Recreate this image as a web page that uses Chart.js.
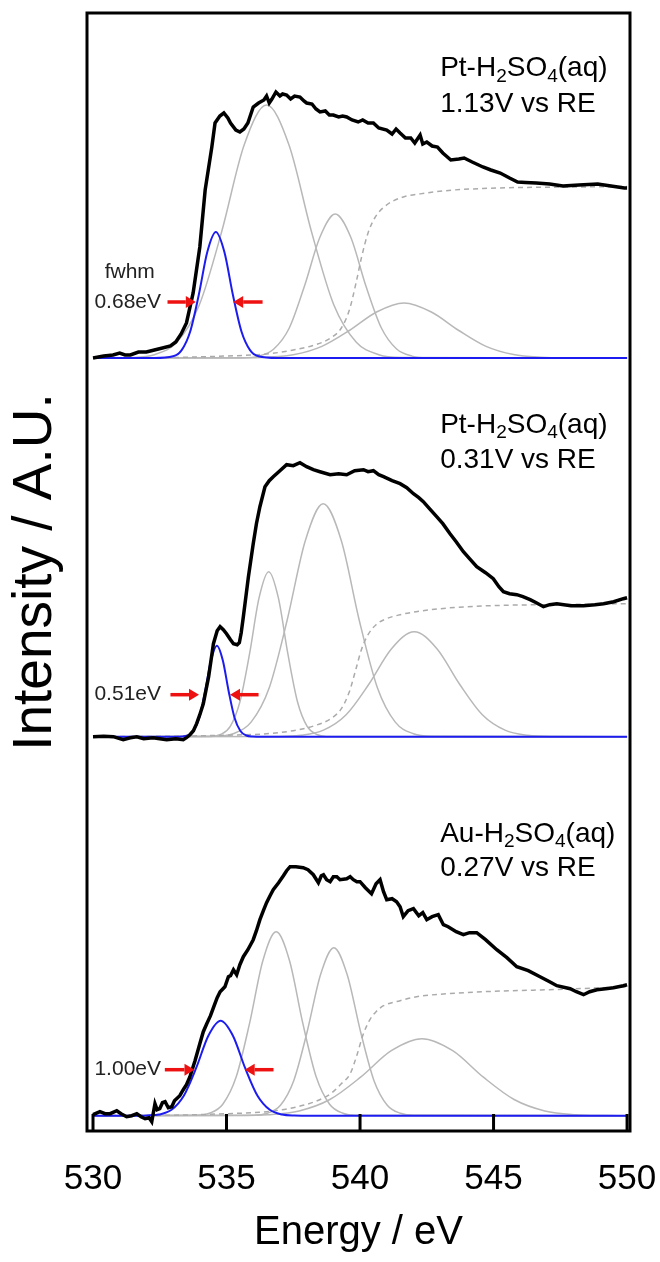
<!DOCTYPE html>
<html>
<head>
<meta charset="utf-8">
<script src="https://cdn.jsdelivr.net/npm/chart.js@4.4.1/dist/chart.umd.min.js"></script>
<style>
  html, body { margin: 0; padding: 0; background: #fff; }
  #wrap { width: 660px; height: 1262px; }
</style>
</head>
<body>
<div id="wrap"><canvas id="xas" width="660" height="1262"></canvas></div>
<script>
// O K-edge spectra, three electrodes. Values are [energy eV, intensity A.U.]
const energyTicks = [530, 535, 540, 545, 550];

const panelTitles = ['Pt-H_2SO_4(aq)', 'Pt-H_2SO_4(aq)', 'Au-H_2SO_4(aq)'];
const panelPotentials = ['1.13V vs RE', '0.31V vs RE', '0.27V vs RE'];
const fwhmLabels = ['0.68eV', '0.51eV', '1.00eV'];

// --- Pt 1.13 V ---
const pt113Measured = [[530.0,0],[530.4,2],[530.75,3],[531.0,5],[531.2,3],[531.4,3],[531.7,6],[532.0,6],[532.3,8],[532.6,10],[532.9,12],[533.1,16],[533.3,24],[533.5,35],[533.75,65],[534.0,111],[534.2,168],[534.45,211],[534.57,235],[534.75,242],[534.9,245],[535.05,240],[535.15,235],[535.35,228],[535.5,226],[535.65,229],[535.8,235],[536.0,251],[536.2,255],[536.4,258],[536.5,262],[536.6,255],[536.7,259],[536.85,266],[537.0,262],[537.1,264],[537.25,263],[537.4,259],[537.55,262],[537.75,261],[537.9,257],[538.0,255],[538.2,254],[538.35,249],[538.5,246],[538.7,247],[538.85,243],[539.0,243],[539.2,241],[539.35,242],[539.5,241],[539.7,238],[539.93,236],[540.1,238],[540.3,235],[540.5,235],[540.7,230],[541.0,228],[541.2,224],[541.35,229],[541.5,225],[541.7,220],[541.9,220],[542.05,215],[542.25,223],[542.35,214],[542.5,216],[542.7,212],[542.9,211],[543.1,205],[543.4,198],[543.7,199],[543.9,200],[544.2,196],[544.6,191],[544.9,188],[545.25,185],[545.6,180],[545.9,176],[546.2,175.5],[546.6,175],[547.1,174],[547.6,172],[548.2,173],[548.9,174],[549.4,172],[549.9,170],[550.0,170]];
const pt113Step = [[530,0],[533,0.5],[535,2],[536.5,4],[537.5,8],[538.3,13],[538.9,20],[539.3,30],[539.6,48],[539.85,75],[540.05,100],[540.3,125],[540.55,140],[540.9,151],[541.5,160],[542.5,165],[543.5,168],[544.6,169.5],[546,170.5],[548,171],[550,171.5]];
const pt113Pre = [[530,0],[532.3,0],[533.0,1.7],[533.32,7.9],[533.64,26.5],[533.96,63],[534.28,106],[534.6,126],[534.92,106],[535.24,63],[535.56,26.5],[535.88,7.9],[536.2,1.7],[536.9,0],[550,0]];
const pt113PeakA = [[530,0],[531.46,0.5],[532.3,3.3],[533.14,15.8],[533.98,53],[534.82,126.5],[535.66,213],[536.5,253],[537.34,213],[538.18,126.5],[539.02,53],[539.86,15.8],[540.7,3.3],[541.54,0.5],[550,0]];
const pt113PeakB = [[530,0],[535.62,0.3],[536.2,1.9],[536.77,9],[537.35,30],[537.92,72],[538.5,121],[539.07,144],[539.65,121],[540.22,72],[540.8,30],[541.37,9],[541.95,1.9],[542.52,0.3],[550,0]];
const pt113PeakC = [[530,0],[535.5,0.1],[536.52,0.7],[537.55,3.4],[538.57,11.6],[539.6,27.5],[540.62,46],[541.65,55],[542.67,46],[543.7,27.5],[544.72,11.6],[545.75,3.4],[546.77,0.7],[547.8,0.1],[550,0]];

// --- Pt 0.31 V ---
const pt031Measured = [[530.0,0],[530.4,0.5],[530.76,0],[531.13,-3],[531.4,-1],[531.64,0],[531.9,-2],[532.25,-1],[532.5,-2],[532.76,-3],[533.1,-2],[533.38,-3],[533.5,-1],[533.63,2],[533.76,6],[533.88,13],[534.0,22],[534.13,33],[534.33,60],[534.51,93],[534.65,106],[534.76,110],[534.88,107],[535.0,103],[535.15,97],[535.26,93],[535.4,92],[535.48,94],[535.55,104],[535.63,120],[535.82,160],[536.0,193],[536.12,213],[536.25,230],[536.44,250],[536.6,256],[536.75,260],[537.0,266],[537.25,272],[537.5,271],[537.75,274],[538.0,270],[538.25,267],[538.5,265],[538.88,262],[539.2,263],[539.5,262],[539.8,266],[540.13,267],[540.3,265],[540.5,266],[540.7,262],[540.88,260],[541.2,256],[541.5,253],[541.75,249],[542.0,243],[542.2,239],[542.37,235],[542.6,228],[542.87,220],[543.1,213],[543.37,203],[543.6,195],[543.87,185],[544.1,178],[544.37,170],[544.7,164],[544.99,158],[545.2,150],[545.37,145],[545.6,143],[545.87,142],[546.1,140],[546.37,137],[546.6,134],[546.87,130],[547.1,132],[547.37,133],[547.9,131],[548.37,131],[548.8,132],[549.12,133],[549.5,135],[549.86,138],[550.0,139]];
const pt031Step = [[530,0],[533,0.5],[535,1.5],[536.5,3],[537.5,6],[538.3,11],[538.9,18],[539.3,28],[539.6,45],[539.85,68],[540.05,87],[540.3,102],[540.6,112],[540.9,117],[541.5,122],[542.1,125],[543,128],[544,130],[545.5,131.5],[547,132],[550,133]];
const pt031Pre = [[530,0],[533.0,0],[533.32,0.2],[533.54,1.2],[533.76,5.7],[533.98,19],[534.2,45.5],[534.42,76.5],[534.64,91],[534.86,76.5],[535.08,45.5],[535.3,19],[535.52,5.7],[535.74,1.2],[535.96,0.2],[536.4,0],[550,0]];
const pt031PeakA = [[530,0],[534.42,0.3],[534.78,2.2],[535.14,10.3],[535.5,34.7],[535.86,82.5],[536.22,139],[536.58,165],[536.94,139],[537.3,82.5],[537.66,34.7],[538.02,10.3],[538.38,2.2],[538.74,0.3],[550,0]];
const pt031PeakB = [[530,0],[534.57,0.5],[535.25,3],[535.92,14.6],[536.6,49],[537.27,116.5],[537.95,196],[538.62,233],[539.3,196],[539.97,116.5],[540.65,49],[541.32,14.6],[542.0,3],[542.67,0.5],[550,0]];
const pt031PeakC = [[530,0],[536.93,0.2],[537.78,1.4],[538.63,6.6],[539.48,22],[540.33,52.5],[541.18,88],[542.03,105],[542.88,88],[543.73,52.5],[544.58,22],[545.43,6.6],[546.28,1.4],[547.13,0.2],[550,0]];

// --- Au 0.27 V ---
const au027Measured = [[530.0,1],[530.26,4],[530.45,2],[530.64,2],[530.89,5],[531.05,2],[531.26,-1],[531.45,0],[531.64,2],[531.8,-1],[531.95,-3],[532.1,-2],[532.2,-6],[532.32,12],[532.4,6],[532.5,7],[532.6,13],[532.7,14],[532.82,8],[532.95,9],[533.05,15],[533.13,17],[533.25,20],[533.38,26],[533.5,31],[533.63,39],[533.82,55],[534.0,72],[534.13,84],[534.26,92],[534.4,100],[534.51,108],[534.65,118],[534.76,124],[534.94,129],[535.07,139],[535.15,140],[535.26,146],[535.38,141],[535.5,151],[535.63,159],[535.8,166],[536.0,176],[536.12,185],[536.25,196],[536.38,205],[536.5,213],[536.63,220],[536.75,226],[536.95,233],[537.13,240],[537.25,245],[537.38,249],[537.6,249],[537.87,248],[538.05,246],[538.25,241],[538.44,233],[538.55,240],[538.63,241],[538.75,236],[538.88,234],[539.0,239],[539.13,239],[539.25,236],[539.5,237],[539.63,239],[539.75,236],[539.88,234],[540.0,234],[540.2,228],[540.43,222],[540.6,232],[540.75,236],[540.88,224],[541.0,216],[541.2,217],[541.37,214],[541.5,209],[541.62,199],[541.8,205],[542.0,207],[542.2,200],[542.35,203],[542.5,196],[542.7,199],[542.93,201],[543.12,191],[543.3,189],[543.6,184],[543.87,181],[544.1,183],[544.37,183],[544.7,176],[545.12,166],[545.5,158],[545.87,149],[546.3,145],[546.74,139],[547.1,134],[547.37,130],[547.87,127],[548.1,124],[548.37,121],[548.6,124],[548.87,126],[549.2,127],[549.49,128],[549.86,130],[550.0,131]];
const au027Step = [[530,0],[533,0.5],[535,2],[536.5,4],[537.5,8],[538.3,14],[538.9,22],[539.3,32],[539.63,42],[539.9,62],[540.1,80],[540.37,96],[540.6,104],[540.88,110],[541.5,115],[542.12,119],[543.3,122],[544.6,124],[547.1,126],[550,129]];
const au027Pre = [[530,0],[531.8,0],[532.02,0.2],[532.48,1.2],[532.94,5.9],[533.4,20],[533.86,47.5],[534.32,80],[534.78,95],[535.24,80],[535.7,47.5],[536.16,20],[536.62,5.9],[537.08,1.2],[537.54,0.2],[538.2,0],[550,0]];
const au027PeakA = [[530,0],[533.86,0.4],[534.36,2.4],[534.86,11.5],[535.36,38.6],[535.86,92],[536.36,155],[536.86,184],[537.36,155],[537.86,92],[538.36,38.6],[538.86,11.5],[539.36,2.4],[539.86,0.4],[550,0]];
const au027PeakB = [[530,0],[536.02,0.4],[536.52,2.4],[537.02,10.5],[537.52,35.3],[538.02,84],[538.52,141],[539.02,168],[539.52,141],[540.02,84],[540.52,35.3],[541.02,10.5],[541.52,2.4],[542.02,0.4],[550,0]];
const au027PeakC = [[530,0],[535.42,0.15],[536.57,1],[537.72,4.8],[538.87,16.2],[540.02,38.5],[541.17,65],[542.32,77],[543.47,65],[544.62,38.5],[545.77,16.2],[546.92,4.8],[548.07,1],[549.22,0.15],[550,0]];

// fwhm arrows: [tail, tip] energies for each side, height above panel baseline
const fwhmArrows = [
  { left: [532.79, 533.85], right: [536.35, 535.25], rise: 56 },
  { left: [532.90, 533.97], right: [536.20, 535.13], rise: 42 },
  { left: [532.69, 533.80], right: [536.76, 535.68], rise: 46 }
];

// layout: vertical offset of each panel baseline, caption placement
const panelOffsets = [773, 394.3, 15.3];
const captionE = 543.0;
const captionRise = [[282, 246], [304, 269], [274, 240]];
const fwhmTextE = 531.3;

const family = '"Liberation Sans", Arial, Helvetica, sans-serif';
const grey = '#b8b8b8';

const panels = [
  { measured: pt113Measured, step: pt113Step, pre: pt113Pre, peaks: [pt113PeakA, pt113PeakB, pt113PeakC] },
  { measured: pt031Measured, step: pt031Step, pre: pt031Pre, peaks: [pt031PeakA, pt031PeakB, pt031PeakC] },
  { measured: au027Measured, step: au027Step, pre: au027Pre, peaks: [au027PeakA, au027PeakB, au027PeakC] }
];

function series(points, offset, style) {
  return Object.assign({
    data: points.map(([e, v]) => ({ x: e, y: v + offset })),
    showLine: true,
    pointRadius: 0,
    fill: false
  }, style);
}

// first dataset is drawn on top, so measured curves go first
const datasets = [];
panels.forEach((p, i) => {
  datasets.push(series(p.measured, panelOffsets[i], { borderColor: '#000', borderWidth: 3.5, tension: 0 }));
});
panels.forEach((p, i) => {
  datasets.push(series(p.pre, panelOffsets[i], { borderColor: '#1c1cf0', borderWidth: 2, cubicInterpolationMode: 'monotone' }));
});
panels.forEach((p, i) => {
  datasets.push(series(p.step, panelOffsets[i], { borderColor: '#ababab', borderWidth: 1.5, borderDash: [5, 4], cubicInterpolationMode: 'monotone' }));
  p.peaks.forEach(pk => {
    datasets.push(series(pk, panelOffsets[i], { borderColor: grey, borderWidth: 1.5, cubicInterpolationMode: 'monotone' }));
  });
});

// text with "_x" meaning subscript x
function drawSubText(ctx, text, x, y, size) {
  let cx = x;
  for (let i = 0; i < text.length; i++) {
    let ch = text[i], sub = false;
    if (ch === '_' && i + 1 < text.length) { ch = text[++i]; sub = true; }
    const s = sub ? size * 0.68 : size;
    ctx.font = s + 'px ' + family;
    ctx.fillText(ch, cx, sub ? y + size * 0.2 : y);
    cx += ctx.measureText(ch).width;
  }
}

function drawArrow(ctx, xTail, xTip, y) {
  const dir = xTip > xTail ? 1 : -1;
  const head = 10;
  ctx.beginPath();
  ctx.moveTo(xTail, y);
  ctx.lineTo(xTip - dir * head, y);
  ctx.stroke();
  ctx.beginPath();
  ctx.moveTo(xTip, y);
  ctx.lineTo(xTip - dir * head, y - 6);
  ctx.lineTo(xTip - dir * head, y + 6);
  ctx.closePath();
  ctx.fill();
}

const annotate = {
  id: 'annotate',
  afterDatasetsDraw(chart) {
    const { ctx, chartArea: a, scales: { x, y } } = chart;
    ctx.save();

    // frame and inward bottom ticks
    ctx.strokeStyle = '#000';
    ctx.lineWidth = 3;
    ctx.strokeRect(a.left, a.top, a.right - a.left, a.bottom - a.top);
    energyTicks.forEach(v => {
      const px = x.getPixelForValue(v);
      ctx.beginPath();
      ctx.moveTo(px, a.bottom);
      ctx.lineTo(px, a.bottom - 17);
      ctx.stroke();
    });

    ctx.fillStyle = '#000';
    ctx.textBaseline = 'alphabetic';
    ctx.textAlign = 'left';
    panelOffsets.forEach((off, i) => {
      const cx = x.getPixelForValue(captionE);
      drawSubText(ctx, panelTitles[i], cx, y.getPixelForValue(off + captionRise[i][0]), 28);
      drawSubText(ctx, panelPotentials[i], cx, y.getPixelForValue(off + captionRise[i][1]), 28);
    });

    // fwhm markers
    ctx.textAlign = 'center';
    ctx.textBaseline = 'middle';
    ctx.font = '21px ' + family;
    fwhmArrows.forEach((f, i) => {
      const py = y.getPixelForValue(panelOffsets[i] + f.rise);
      ctx.fillStyle = '#222';
      ctx.fillText(fwhmLabels[i], x.getPixelForValue(fwhmTextE), py);
      if (i === 0) ctx.fillText('fwhm', x.getPixelForValue(fwhmTextE) + 2, py - 30);
      ctx.strokeStyle = '#ee1111';
      ctx.fillStyle = '#ee1111';
      ctx.lineWidth = 3.5;
      drawArrow(ctx, x.getPixelForValue(f.left[0]), x.getPixelForValue(f.left[1]), py);
      drawArrow(ctx, x.getPixelForValue(f.right[0]), x.getPixelForValue(f.right[1]), py);
    });
    ctx.restore();
  }
};

new Chart(document.getElementById('xas'), {
  type: 'scatter',
  data: { datasets },
  plugins: [annotate],
  options: {
    responsive: false,
    animation: false,
    devicePixelRatio: 1,
    layout: { padding: { left: 0, right: 30, top: 13, bottom: 5 } },
    plugins: { legend: { display: false }, tooltip: { enabled: false } },
    scales: {
      x: {
        type: 'linear',
        min: 529.775,
        max: 550.11,
        afterBuildTicks: scale => { scale.ticks = energyTicks.map(v => ({ value: v })); },
        // the "550" label may hang over the frame, as in the figure
        afterFit: scale => { scale.paddingLeft = 0; scale.paddingRight = 0; },
        grid: { display: false, drawTicks: false },
        border: { display: false },
        ticks: { color: '#000', font: { size: 35, family }, padding: 27, maxRotation: 0 },
        // tick padding is counted twice in the axis height; the negative title padding takes it back
        title: { display: true, text: 'Energy / eV', color: '#000', font: { size: 40, family }, padding: { top: -18, bottom: 0 } }
      },
      y: {
        min: 0,
        max: 1118,
        grid: { display: false, drawTicks: false },
        border: { display: false },
        ticks: { display: false },
        title: { display: true, text: 'Intensity / A.U.', color: '#000', font: { size: 55, family }, padding: { top: 3, bottom: 18 } }
      }
    }
  }
});
</script>
</body>
</html>
